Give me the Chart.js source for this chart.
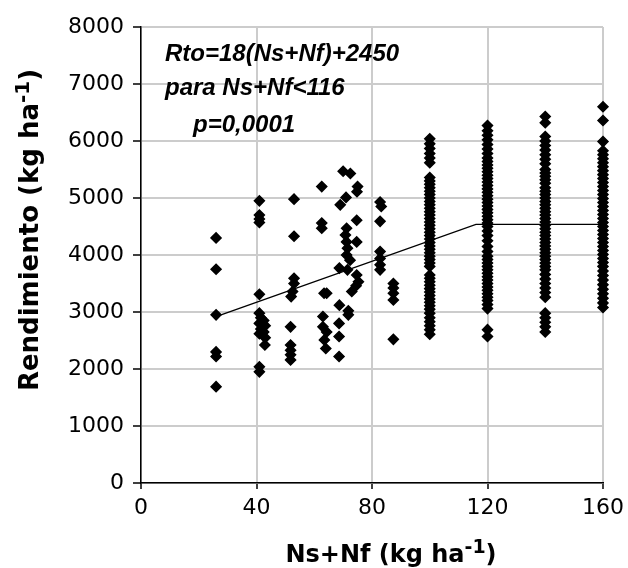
<!DOCTYPE html>
<html>
<head>
<meta charset="utf-8">
<script src="https://cdn.jsdelivr.net/npm/chart.js@4.4.1/dist/chart.umd.min.js"></script>
<style>
  html, body { margin: 0; padding: 0; background: #fff; }
  #wrap { width: 628px; height: 568px; }
</style>
</head>
<body>
<div id="wrap"><canvas id="chart" width="628" height="568"></canvas></div>
<script>
// ---- data ----
const xTicks = [0, 40, 80, 120, 160];
const yTicks = [0, 1000, 2000, 3000, 4000, 5000, 6000, 7000, 8000];

// scattered plots below 100 kg N
const lowX = [
  26, 26, 26, 26, 26, 26,
  41, 41, 41, 41, 41, 41, 41.5, 42.5, 41, 43, 41.5, 42.5, 41, 43, 42.9, 41, 41,
  53, 53, 53, 53, 52.5, 52, 51.8, 51.8, 51.8, 51.8, 51.8,
  62.6, 62.6, 62.6, 63.4, 64.3, 63, 63, 64.3, 63.5, 64,
  70, 72.5, 75, 74.8, 71, 69, 74.7, 71.2, 70.8, 71.2, 74.7, 71.5, 71.2, 72.4, 68.7, 71.5,
  74.7, 75.3, 74.5, 73, 68.7, 71.8, 71.8, 68.6, 68.6, 68.6,
  82.8, 83.2, 82.8, 82.8, 82.8, 82.8, 82.8,
  87.4, 87.4, 87.4, 87.4, 87.4
];
const lowY = [
  4300, 3750, 2950, 2300, 2220, 1690,
  4950, 4700, 4630, 4570, 3310, 2980, 2900, 2850, 2800, 2760, 2700, 2650, 2620, 2550, 2420, 2040, 1950,
  4980, 4330, 3590, 3500, 3360, 3270, 2740, 2420, 2330, 2250, 2160,
  5200, 4560, 4470, 3330, 3330, 2920, 2740, 2650, 2510, 2360,
  5470, 5430, 5200, 5110, 5010, 4880, 4610, 4470, 4350, 4230, 4230, 4120, 4000, 3910, 3770, 3740,
  3650, 3530, 3460, 3360, 3120, 3020, 2950, 2800, 2570, 2220,
  4930, 4850, 4590, 4060, 3940, 3830, 3740,
  3500, 3420, 3330, 3210, 2520
];

// dense columns at 100, 120, 140 and 160 kg N
const col100 = [
  6040, 5950, 5870, 5780, 5700, 5620,
  5360, 5300, 5240, 5180, 5120, 5060, 5000, 4940, 4880, 4820, 4760, 4700, 4640, 4580, 4520,
  4460, 4400, 4340, 4280, 4220, 4160, 4100, 4040, 3980, 3920, 3860, 3800,
  3650, 3590, 3530, 3470, 3410, 3350, 3290, 3230, 3170, 3110, 3050, 2980, 2900, 2830, 2760, 2690, 2610
];
const col120 = [
  6270, 6180, 6100, 6020, 5940, 5860, 5780, 5700, 5640, 5580, 5520, 5460, 5400, 5340, 5280,
  5220, 5160, 5100, 5040, 4980, 4920, 4860, 4800, 4740, 4680, 4620, 4560, 4500, 4420, 4340,
  4250, 4150, 4060, 3980, 3920, 3860, 3800, 3740, 3680, 3620, 3560, 3500, 3440, 3380, 3320,
  3260, 3200, 3130, 3060, 2690, 2570
];
const col140 = [
  6430, 6320, 6080, 6000, 5920, 5840, 5760, 5680, 5600, 5500, 5440, 5380, 5320, 5260, 5180,
  5120, 5060, 5000, 4940, 4880, 4820, 4760, 4700, 4640, 4580, 4520, 4460, 4400, 4340, 4280,
  4220, 4160, 4100, 4040, 3980, 3920, 3860, 3800, 3740, 3660, 3580, 3500, 3420, 3340, 3260,
  2980, 2900, 2820, 2740, 2650
];
const col160 = [
  6600, 6360, 5990, 5830, 5760, 5690, 5620, 5550, 5480, 5410, 5340, 5270, 5200, 5130, 5060,
  4990, 4920, 4850, 4780, 4710, 4640, 4570, 4500, 4430, 4360, 4290, 4220, 4150, 4080, 4010,
  3940, 3870, 3800, 3720, 3640, 3560, 3480, 3400, 3320, 3240, 3160, 3080
];

// fitted plateau model
const fitX = [26, 116, 160];
const fitY = [2918, 4538, 4538];

const noteLines = ["Rto=18(Ns+Nf)+2450", "para Ns+Nf<116", "p=0,0001"];

// ---- build ----
const pts = [];
lowX.forEach((x, i) => pts.push({ x, y: lowY[i] }));
col100.forEach(y => pts.push({ x: 100, y }));
col120.forEach(y => pts.push({ x: 120, y }));
col140.forEach(y => pts.push({ x: 140, y }));
col160.forEach(y => pts.push({ x: 160, y }));

const tickFont = { family: "'DejaVu Sans', sans-serif", size: 22 };
const GRID = "#cccccc";

function drawSupText(ctx, size, before, sup, after, x, y) {
  const main = `bold ${size}px 'DejaVu Sans', sans-serif`;
  const small = `bold ${Math.round(size * 0.78)}px 'DejaVu Sans', sans-serif`;
  ctx.font = main;
  const w1 = ctx.measureText(before).width;
  const w3 = ctx.measureText(after).width;
  ctx.font = small;
  const w2 = ctx.measureText(sup).width;
  let cx = x - (w1 + w2 + w3) / 2;
  ctx.font = main;
  ctx.fillText(before, cx, y);
  cx += w1;
  ctx.font = small;
  ctx.fillText(sup, cx, y - size * 0.36);
  cx += w2;
  ctx.font = main;
  ctx.fillText(after, cx, y);
}

const textPlugin = {
  id: "texts",
  afterDraw(chart) {
    const ctx = chart.ctx;
    const a = chart.chartArea;
    ctx.save();
    ctx.fillStyle = "#000";
    ctx.textBaseline = "alphabetic";
    ctx.textAlign = "left";

    // equation box
    ctx.font = "bold italic 24px 'Liberation Sans', Arial, sans-serif";
    ctx.fillText(noteLines[0], a.left + 24, 61);
    ctx.fillText(noteLines[1], a.left + 24, 95);
    ctx.fillText(noteLines[2], a.left + 52, 132);

    // axis titles (with superscript)
    drawSupText(ctx, 24, "Ns+Nf (kg ha", "-1", ")", 391, 562);
    ctx.translate(38, 230);
    ctx.rotate(-Math.PI / 2);
    drawSupText(ctx, 26, "Rendimiento (kg ha", "-1", ")", 0, 0);
    ctx.restore();
  }
};

new Chart(document.getElementById("chart"), {
  type: "scatter",
  data: {
    datasets: [
      {
        type: "line",
        data: fitX.map((x, i) => ({ x, y: fitY[i] })),
        borderColor: "#000",
        borderWidth: 1.3,
        pointRadius: 0,
        fill: false,
        tension: 0
      },
      {
        data: pts,
        clip: false,
        pointStyle: "rectRot",
        pointRadius: 5,
        pointBorderWidth: 1.5,
        backgroundColor: "#000",
        borderColor: "#000"
      }
    ]
  },
  options: {
    responsive: false,
    animation: false,
    devicePixelRatio: 1,
    layout: { padding: { left: 0, top: 27, right: 25, bottom: 0 } },
    plugins: { legend: { display: false }, tooltip: { enabled: false } },
    scales: {
      x: {
        type: "linear",
        min: 0,
        max: 160,
        afterBuildTicks: (s) => { s.ticks = xTicks.map(v => ({ value: v })); },
        afterFit: (s) => { s.height = 85; s.paddingLeft = 0; s.paddingRight = 0; },
        ticks: { font: tickFont, color: "#000", padding: 6, maxRotation: 0, callback: (v) => String(v) },
        grid: { color: GRID, lineWidth: 2, tickColor: "#000", tickLength: 6, tickWidth: 1.5 },
        border: { color: "#000", width: 1.5 }
      },
      y: {
        type: "linear",
        min: 0,
        max: 8000,
        afterBuildTicks: (s) => { s.ticks = yTicks.map(v => ({ value: v })); },
        afterFit: (s) => { s.width = 141; },
        ticks: { font: tickFont, color: "#000", padding: 9, callback: (v) => String(v) },
        grid: { color: GRID, lineWidth: 2, tickColor: "#000", tickLength: 8, tickWidth: 1.5 },
        border: { color: "#000", width: 1.5 }
      }
    }
  },
  plugins: [textPlugin]
});
</script>
</body>
</html>
